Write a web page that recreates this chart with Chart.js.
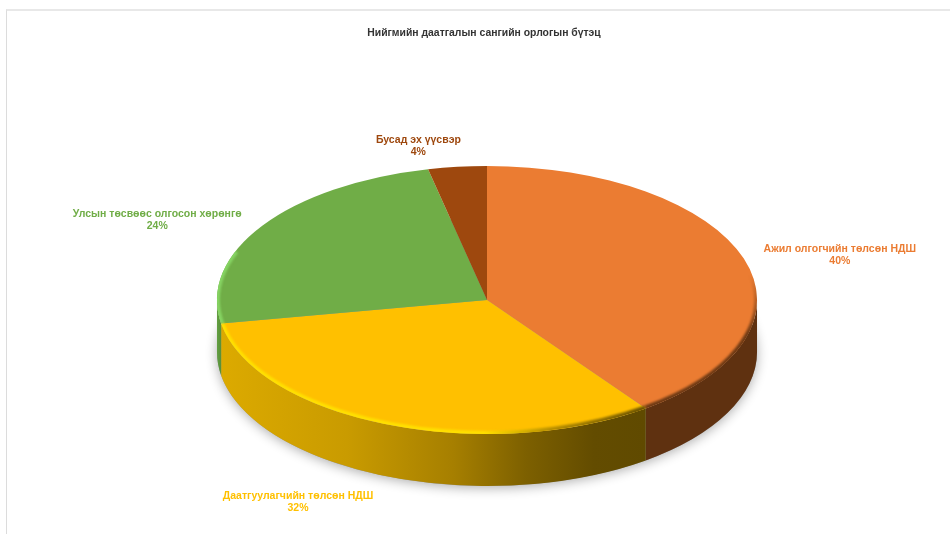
<!DOCTYPE html>
<html>
<head>
<meta charset="utf-8">
<script src="https://cdn.jsdelivr.net/npm/chart.js@4"></script>
<style>
html,body{margin:0;padding:0;background:#fff;overflow:hidden}
#wrap{position:relative;width:950px;height:534px}
#frame{position:absolute;left:6px;top:9px;right:0;bottom:0;border-top:2px solid #e8e8e8;border-left:1px solid #dcdcdc}
canvas{position:absolute;left:0;top:0}
</style>
</head>
<body>
<div id="wrap"><div id="frame"></div><canvas id="c" width="950" height="534"></canvas></div>
<script>
const titleText = 'Нийгмийн даатгалын сангийн орлогын бүтэц';
const categories = ['Ажил олгогчийн төлсөн НДШ','Даатгуулагчийн төлсөн НДШ','Улсын төсвөөс олгосон хөрөнгө','Бусад эх үүсвэр'];
const shares = [40,32.2,24.3,3.5];
const sliceColors = ['#EB7C32','#FFC000','#70AD47','#9E480E'];

const squashX = 270/134;   // pie is stretched sideways
const depth = 52;          // wall height
const labelOffsets = [[96,-3],[-88,78],[-105,-6],[-39,-21]];

const pie3d = {
  id:'pie3d',
  afterLayout(chart){
    const t = chart.titleBlock;
    if(t){ t.left -= 3; t.right -= 3; }
  },
  beforeDatasetsDraw(chart){
    const ctx = chart.ctx, arcs = chart.getDatasetMeta(0).data;
    const a0 = arcs[0], cx = a0.x, cy = a0.y, ry = a0.outerRadius, rx = ry*squashX;
    // soft ground shadow
    ctx.save();
    ctx.shadowColor='rgba(0,0,0,0.32)';
    ctx.shadowBlur=12;
    ctx.shadowOffsetX=0; ctx.shadowOffsetY=2;
    ctx.fillStyle='#999';
    ctx.beginPath();
    ctx.ellipse(cx,cy+depth,rx,ry,0,0,Math.PI*2);
    ctx.fill();
    ctx.restore();
    // side walls
    const yg = ctx.createLinearGradient(220,0,645,0);
    yg.addColorStop(0,'#dcaa00'); yg.addColorStop(0.3,'#c99b00'); yg.addColorStop(0.55,'#a67f00');
    yg.addColorStop(0.72,'#7d6000'); yg.addColorStop(0.88,'#634c00'); yg.addColorStop(1,'#604a00');
    const gg = ctx.createLinearGradient(216,0,224,0);
    gg.addColorStop(0,'#66a343'); gg.addColorStop(1,'#4f8433');
    const wallFill = ['#5f3110',yg,gg,'#5f3110'];
    arcs.forEach((a,i)=>{
      const s = Math.max(a.startAngle,0), e = Math.min(a.endAngle,Math.PI);
      if(e<=s) return;
      ctx.beginPath();
      ctx.ellipse(cx,cy,rx,ry,0,s,e);
      ctx.ellipse(cx,cy+depth,rx,ry,0,e,s,true);
      ctx.closePath();
      ctx.fillStyle = wallFill[i];
      ctx.fill();
    });
  },
  beforeDatasetDraw(chart){
    const a0 = chart.getDatasetMeta(0).data[0], ctx = chart.ctx;
    ctx.save();
    ctx.translate(a0.x,a0.y);
    ctx.scale(squashX,1);
    ctx.translate(-a0.x,-a0.y);
  },
  afterDatasetDraw(chart){ chart.ctx.restore(); },
  afterDatasetsDraw(chart){
    const ctx = chart.ctx, arcs = chart.getDatasetMeta(0).data;
    const a0 = arcs[0], cx = a0.x, cy = a0.y, ry = a0.outerRadius, rx = ry*squashX;
    // bevel along the rim
    ctx.save();
    ctx.beginPath();
    ctx.ellipse(cx,cy,rx,ry,0,0,Math.PI*2);
    ctx.clip();
    ctx.filter='blur(1.2px)';
    ctx.lineWidth=6;
    const yRim = ctx.createLinearGradient(222,0,645,0);
    yRim.addColorStop(0,'#ffe000'); yRim.addColorStop(0.62,'#ffe000');
    yRim.addColorStop(0.78,'#b58c00'); yRim.addColorStop(1,'#6b5200');
    const oRim = ctx.createLinearGradient(0,cy-25,0,cy+35);
    oRim.addColorStop(0,'rgba(111,58,20,0)'); oRim.addColorStop(1,'rgba(111,58,20,1)');
    const rims = [
      [oRim,-0.2,a=>a.endAngle],
      [yRim,null,a=>a.endAngle],
      ['#86d463',null,a=>a.endAngle]
    ];
    rims.forEach((r,i)=>{
      const a = arcs[i];
      const s = r[1]===null ? a.startAngle : r[1];
      const e = i===2 ? a.startAngle+0.55 : r[2](a);
      ctx.strokeStyle=r[0];
      ctx.beginPath();
      ctx.ellipse(cx,cy,rx,ry,0,s,e);
      ctx.stroke();
    });
    ctx.restore();
    // outer data labels
    ctx.save();
    ctx.font='bold 10.5px "Liberation Sans", Arial, sans-serif';
    ctx.textAlign='center';
    ctx.textBaseline='middle';
    arcs.forEach((a,i)=>{
      const m = (a.startAngle+a.endAngle)/2;
      const lx = cx + Math.cos(m)*rx + labelOffsets[i][0];
      const ly = cy + Math.sin(m)*ry + labelOffsets[i][1];
      ctx.fillStyle = sliceColors[i];
      ctx.fillText(categories[i],lx,ly-6);
      ctx.fillText(Math.round(shares[i])+'%',lx,ly+6);
    });
    ctx.restore();
  }
};

new Chart(document.getElementById('c'),{
  type:'pie',
  data:{labels:categories,datasets:[{data:shares,backgroundColor:sliceColors,borderWidth:0}]},
  options:{
    responsive:false,
    animation:false,
    devicePixelRatio:1,
    layout:{padding:{top:27,bottom:100,left:287,right:263}},
    events:[],
    plugins:{
      legend:{display:false},
      tooltip:{enabled:false},
      title:{display:true,text:titleText,color:'#333333',
        font:{family:'"Liberation Sans", Arial, sans-serif',size:10.4,weight:'bold'},
        padding:{top:0,bottom:126.5}}
    }
  },
  plugins:[pie3d]
});
</script>
</body>
</html>
